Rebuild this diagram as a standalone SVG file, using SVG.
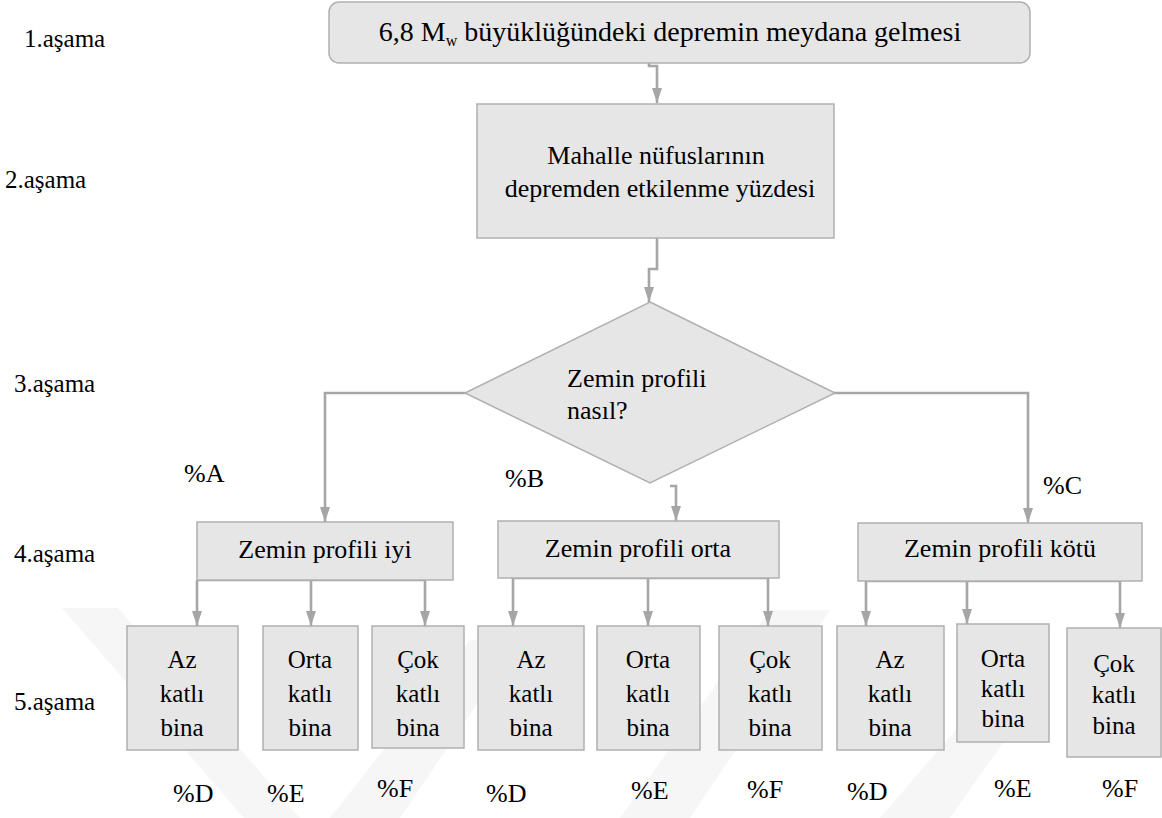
<svg xmlns="http://www.w3.org/2000/svg" width="1162" height="818" viewBox="0 0 1162 818" font-family="Liberation Serif">
  <defs>
    <marker id="arrow" viewBox="0 0 15 10" refX="15" refY="5" markerWidth="15" markerHeight="10" markerUnits="userSpaceOnUse" orient="auto">
      <path d="M0,0 L15,5 L0,10 z" fill="#a6a6a6"/>
    </marker>
  </defs>

  <rect width="1162" height="818" fill="#ffffff"/>

  <!-- faint background emblem -->
  <g id="emblem" fill="#f6f6f6">
    <polygon points="62,608 118,608 300,818 244,818"/>
    <polygon points="330,818 400,818 520,640 470,640"/>
    <polygon points="620,818 690,818 830,610 770,610"/>
    <polygon points="880,818 950,818 1040,690 990,690"/>
  </g>

  <!-- stage labels -->
  <g id="stages" font-size="25">
    <text font-family="Liberation Serif" x="24" y="47">1.a&#351;ama</text>
    <text font-family="Liberation Serif" x="5" y="188">2.a&#351;ama</text>
    <text font-family="Liberation Serif" x="14" y="392">3.a&#351;ama</text>
    <text font-family="Liberation Serif" x="14" y="562">4.a&#351;ama</text>
    <text font-family="Liberation Serif" x="14" y="710">5.a&#351;ama</text>
  </g>

  <!-- connectors -->
  <g id="connectors" fill="none" stroke="#a6a6a6" stroke-width="2.6">
    <path d="M649,62 V66 H657 V103" marker-end="url(#arrow)"/>
    <path d="M657,238 V269 H649 V302" marker-end="url(#arrow)"/>
    <path d="M465,393 H325 V522" marker-end="url(#arrow)"/>
    <path d="M822,393 H1028 V523" marker-end="url(#arrow)"/>
    <path d="M670,486 H676 V521" marker-end="url(#arrow)"/>
    <path d="M197,580 V626" marker-end="url(#arrow)"/>
    <path d="M197,580 H425 V626" marker-end="url(#arrow)"/>
    <path d="M311,580 V626" marker-end="url(#arrow)"/>
    <path d="M513,578 V626" marker-end="url(#arrow)"/>
    <path d="M513,578 H768 V626" marker-end="url(#arrow)"/>
    <path d="M648,578 V626" marker-end="url(#arrow)"/>
    <path d="M866,581 V626" marker-end="url(#arrow)"/>
    <path d="M866,581 H1120 V628" marker-end="url(#arrow)"/>
    <path d="M967,581 V624" marker-end="url(#arrow)"/>
  </g>

  <!-- node shapes share fill and outline -->
  <g id="nodes" fill="#e6e6e6" stroke="#b0b0b0" stroke-width="1.5">
    <g id="deprem"><rect x="329" y="2" width="701" height="61" rx="10"/></g>
    <g id="nufus"><rect x="477" y="104" width="357" height="134"/></g>
    <g id="zemin-karar"><polygon points="650,302 835,393 650,483 465,393"/></g>
    <g id="zemin-iyi"><rect x="197" y="522" width="256" height="58"/></g>
    <g id="zemin-orta"><rect x="498" y="521" width="281" height="57"/></g>
    <g id="zemin-kotu"><rect x="858" y="523" width="284" height="58"/></g>
    <g id="iyi-az"><rect x="127" y="626" width="111" height="124"/></g>
    <g id="iyi-orta"><rect x="263" y="626" width="95" height="124"/></g>
    <g id="iyi-cok"><rect x="372" y="626" width="92" height="122"/></g>
    <g id="orta-az"><rect x="478" y="626" width="106" height="124"/></g>
    <g id="orta-orta"><rect x="597" y="626" width="103" height="124"/></g>
    <g id="orta-cok"><rect x="719" y="626" width="103" height="124"/></g>
    <g id="kotu-az"><rect x="837" y="626" width="107" height="124"/></g>
    <g id="kotu-orta"><rect x="957" y="624" width="92" height="118"/></g>
    <g id="kotu-cok"><rect x="1067" y="628" width="94" height="129"/></g>
  </g>

  <!-- node labels -->
  <g id="labels" font-size="26" text-anchor="middle">
    <text font-family="Liberation Serif" x="670" y="41" font-size="28">6,8 M<tspan font-size="16" dy="5">w</tspan><tspan dy="-5"> b&#252;y&#252;kl&#252;&#287;&#252;ndeki depremin meydana gelmesi</tspan></text>
    <text font-family="Liberation Serif" x="656" y="164">Mahalle n&#252;fuslar&#305;n&#305;n</text>
    <text font-family="Liberation Serif" x="660" y="197">depremden etkilenme y&#252;zdesi</text>
    <text font-family="Liberation Serif" x="567" y="387" text-anchor="start">Zemin profili</text>
    <text font-family="Liberation Serif" x="567" y="419" text-anchor="start">nas&#305;l?</text>
    <text font-family="Liberation Serif" x="325" y="558">Zemin profili iyi</text>
    <text font-family="Liberation Serif" x="638" y="557">Zemin profili orta</text>
    <text font-family="Liberation Serif" x="1000" y="557">Zemin profili k&#246;t&#252;</text>
    <g font-size="25">
      <text font-family="Liberation Serif" x="182" y="668">Az</text>
      <text font-family="Liberation Serif" x="182" y="702">katl&#305;</text>
      <text font-family="Liberation Serif" x="182" y="736">bina</text>
      <text font-family="Liberation Serif" x="310" y="668">Orta</text>
      <text font-family="Liberation Serif" x="310" y="702">katl&#305;</text>
      <text font-family="Liberation Serif" x="310" y="736">bina</text>
      <text font-family="Liberation Serif" x="418" y="668">&#199;ok</text>
      <text font-family="Liberation Serif" x="418" y="702">katl&#305;</text>
      <text font-family="Liberation Serif" x="418" y="736">bina</text>
      <text font-family="Liberation Serif" x="531" y="668">Az</text>
      <text font-family="Liberation Serif" x="531" y="702">katl&#305;</text>
      <text font-family="Liberation Serif" x="531" y="736">bina</text>
      <text font-family="Liberation Serif" x="648" y="668">Orta</text>
      <text font-family="Liberation Serif" x="648" y="702">katl&#305;</text>
      <text font-family="Liberation Serif" x="648" y="736">bina</text>
      <text font-family="Liberation Serif" x="770" y="668">&#199;ok</text>
      <text font-family="Liberation Serif" x="770" y="702">katl&#305;</text>
      <text font-family="Liberation Serif" x="770" y="736">bina</text>
      <text font-family="Liberation Serif" x="890" y="668">Az</text>
      <text font-family="Liberation Serif" x="890" y="702">katl&#305;</text>
      <text font-family="Liberation Serif" x="890" y="736">bina</text>
      <text font-family="Liberation Serif" x="1003" y="667">Orta</text>
      <text font-family="Liberation Serif" x="1003" y="697">katl&#305;</text>
      <text font-family="Liberation Serif" x="1003" y="727">bina</text>
      <text font-family="Liberation Serif" x="1114" y="672">&#199;ok</text>
      <text font-family="Liberation Serif" x="1114" y="703">katl&#305;</text>
      <text font-family="Liberation Serif" x="1114" y="734">bina</text>
    </g>
  </g>

  <!-- branch and building shares -->
  <g id="paylar" font-size="26">
    <text font-family="Liberation Serif" x="184" y="482">%A</text>
    <text font-family="Liberation Serif" x="505" y="487">%B</text>
    <text font-family="Liberation Serif" x="1043" y="494">%C</text>
    <text font-family="Liberation Serif" x="173" y="802">%D</text>
    <text font-family="Liberation Serif" x="267" y="802">%E</text>
    <text font-family="Liberation Serif" x="377" y="797">%F</text>
    <text font-family="Liberation Serif" x="486" y="802">%D</text>
    <text font-family="Liberation Serif" x="631" y="799">%E</text>
    <text font-family="Liberation Serif" x="747" y="798">%F</text>
    <text font-family="Liberation Serif" x="847" y="800">%D</text>
    <text font-family="Liberation Serif" x="994" y="797">%E</text>
    <text font-family="Liberation Serif" x="1102" y="797">%F</text>
  </g>
</svg>
